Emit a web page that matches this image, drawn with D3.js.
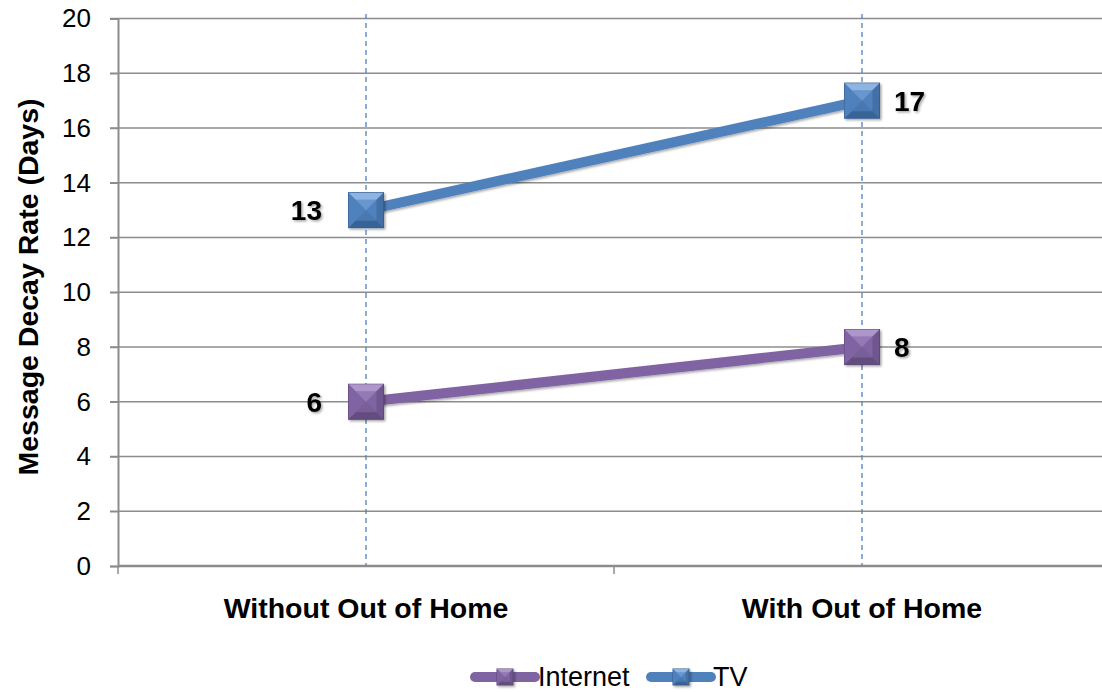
<!DOCTYPE html>
<html><head><meta charset="utf-8">
<script src="https://cdn.jsdelivr.net/npm/d3@7"></script>
<style>body{margin:0;background:#fff}svg{display:block}</style>
</head><body>
<svg id="c" width="1102" height="692"></svg>
<script>
const categories = ["Without Out of Home", "With Out of Home"];
const internetValues = [6, 8];
const tvValues = [13, 17];
const seriesNames = ["Internet", "TV"];
const yTicks = [0, 2, 4, 6, 8, 10, 12, 14, 16, 18, 20];
const yTitle = "Message Decay Rate (Days)";

const svg = d3.select("#c");
const font = "Arial, 'Liberation Sans', sans-serif";
const colors = {Internet: "#8064A2", TV: "#4F81BD"};
const dark = {Internet: "#5E4A7A", TV: "#365F91"};
const light = {Internet: "#B9A3D6", TV: "#9CC0EC"};

const x0 = 118, x1 = 1110, yTop = 18.5, yBot = 566;
const x = d3.scalePoint().domain(categories).range([x0, x1]).padding(0.5);
const xb = d3.scaleBand().domain(categories).range([x0, x1]);
const y = d3.scaleLinear().domain([0, 20]).range([yBot, yTop]);

// gridlines
svg.append("g").selectAll("line").data(yTicks.filter(d => d > 0)).join("line")
  .attr("x1", x0 - 8).attr("x2", 1102)
  .attr("y1", d => y(d)).attr("y2", d => y(d))
  .attr("stroke", "#8c8c8c").attr("stroke-width", 1.5);

// y axis
const yAxis = d3.axisLeft(y).tickValues(yTicks).tickSize(8).tickPadding(19);
const ya = svg.append("g").attr("transform", `translate(${x0},0)`).call(yAxis);
ya.select(".domain").attr("stroke", "#8c8c8c").attr("stroke-width", 2);
ya.selectAll(".tick line").attr("stroke", "#8c8c8c").attr("stroke-width", 1.5);
ya.selectAll(".tick text").attr("font-family", font).attr("font-size", 26).attr("fill", "#000");

// x axis baseline
svg.append("line").attr("x1", x0).attr("x2", 1102).attr("y1", yBot).attr("y2", yBot)
  .attr("stroke", "#8c8c8c").attr("stroke-width", 2.5);
// band boundary ticks
svg.selectAll(".bt").data(categories).join("line")
  .attr("x1", d => xb(d)).attr("x2", d => xb(d)).attr("y1", yBot).attr("y2", yBot + 8)
  .attr("stroke", "#8c8c8c").attr("stroke-width", 1.5);
svg.selectAll(".xl").data(categories).join("text")
  .attr("x", d => x(d)).attr("y", 618).attr("text-anchor", "middle")
  .attr("font-family", font).attr("font-size", 28.5).attr("font-weight", "bold").text(d => d);

// dashed verticals
svg.selectAll(".vd").data(categories).join("line")
  .attr("x1", d => x(d)).attr("x2", d => x(d)).attr("y1", 14).attr("y2", yBot)
  .attr("stroke", "#4F81BD").attr("stroke-width", 1.3).attr("stroke-dasharray", "5,4");

// y title
svg.append("text").attr("transform", `translate(38,${287}) rotate(-90)`)
  .attr("text-anchor", "middle").attr("font-family", font).attr("font-size", 28.5)
  .attr("font-weight", "bold").text(yTitle);

// shadow filter
const defs = svg.append("defs");
const f = defs.append("filter").attr("id", "sh").attr("x", "-20%").attr("y", "-20%").attr("width", "150%").attr("height", "150%");
f.append("feDropShadow").attr("dx", 1.5).attr("dy", 1.5).attr("stdDeviation", 1.2).attr("flood-color", "#000").attr("flood-opacity", 0.35);

function marker(sel, cx, cy, s, name) {
  const h = s / 2, b = s * 0.2;
  const grp = sel.append("g").attr("filter", "url(#sh)");
  grp.append("rect").attr("x", cx - h).attr("y", cy - h).attr("width", s).attr("height", s)
    .attr("fill", colors[name]).attr("stroke", dark[name]).attr("stroke-width", 1);
  const p = (pts) => grp.append("polygon").attr("points", pts.map(q => q.join(",")).join(" "));
  p([[cx - h, cy - h], [cx + h, cy - h], [cx + h - b, cy - h + b], [cx - h + b, cy - h + b]]).attr("fill", light[name]).attr("opacity", 0.8);
  p([[cx - h, cy + h], [cx + h, cy + h], [cx + h - b, cy + h - b], [cx - h + b, cy + h - b]]).attr("fill", dark[name]).attr("opacity", 0.9);
  p([[cx - h, cy - h], [cx - h + b, cy - h + b], [cx - h + b, cy + h - b], [cx - h, cy + h]]).attr("fill", colors[name]).attr("opacity", 0.9);
  p([[cx + h, cy - h], [cx + h - b, cy - h + b], [cx + h - b, cy + h - b], [cx + h, cy + h]]).attr("fill", dark[name]).attr("opacity", 0.5);
  grp.append("polygon").attr("points", `${cx - h + b},${cy - h + b} ${cx + h - b},${cy - h + b} ${cx},${cy}`).attr("fill", light[name]).attr("opacity", 0.35);
  grp.append("polygon").attr("points", `${cx - h + b},${cy + h - b} ${cx + h - b},${cy + h - b} ${cx},${cy}`).attr("fill", dark[name]).attr("opacity", 0.25);
}

const series = [
  {name: "Internet", values: internetValues},
  {name: "TV", values: tvValues}
];
const line = d3.line().x((d, i) => x(categories[i])).y(d => y(d));
series.forEach(s => {
  svg.append("path").datum(s.values).attr("d", line).attr("fill", "none")
    .attr("stroke", colors[s.name]).attr("stroke-width", 10).attr("filter", "url(#sh)");
});
series.forEach(s => {
  s.values.forEach((v, i) => marker(svg, x(categories[i]), y(v), 35, s.name));
});

// data labels
series.forEach(s => {
  s.values.forEach((v, i) => {
    const left = i === 0;
    svg.append("text")
      .attr("x", left ? x(categories[i]) - 44 : x(categories[i]) + 32)
      .attr("y", y(v) + 10)
      .attr("text-anchor", left ? "end" : "start")
      .attr("font-family", font).attr("font-size", 28).attr("font-weight", "bold")
      .attr("filter", "url(#sh)")
      .text(v);
  });
});

// legend
const lg = svg.append("g");
const legendItems = [
  {name: seriesNames[0], x: 475, tx: 538},
  {name: seriesNames[1], x: 651, tx: 713}
];
legendItems.forEach(it => {
  lg.append("line").attr("x1", it.x).attr("x2", it.x + 60).attr("y1", 677).attr("y2", 677)
    .attr("stroke", colors[it.name]).attr("stroke-width", 10).attr("stroke-linecap", "round");
  marker(lg, it.x + 30, 677, 16, it.name);
  lg.append("text").attr("x", it.tx).attr("y", 686).attr("font-family", font)
    .attr("font-size", 27).text(it.name);
});
</script>
</body></html>
